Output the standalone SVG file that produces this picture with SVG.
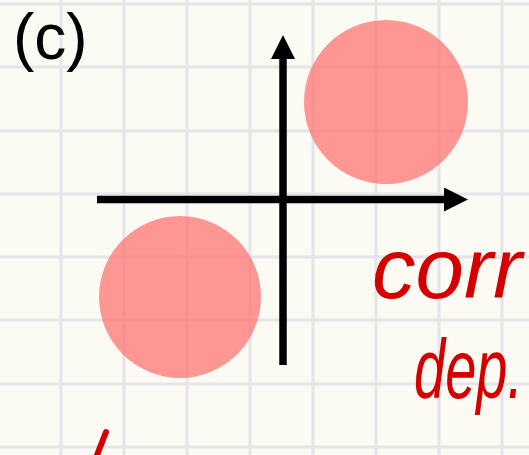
<svg xmlns="http://www.w3.org/2000/svg" width="529" height="455" viewBox="0 0 529 455">
<style>
.grid{stroke:#e4e4ea;stroke-width:3}
.axis{stroke:#000;stroke-width:7.5}
.blob{fill:#ff7474;fill-opacity:0.75}
.hand{fill:#d40000;font-family:"Liberation Sans",sans-serif;font-style:italic}
</style>
<defs>
<marker id="ah" viewBox="0 0 24 24" refX="2" refY="12" markerWidth="24" markerHeight="24" markerUnits="userSpaceOnUse" orient="auto">
<path d="M0,0 L24,12 L0,24 Z" fill="#000"/>
</marker>
</defs>
<rect width="529" height="455" fill="#fbfbf3"/>
<g id="grid" class="grid">
<line x1="61" y1="0" x2="61" y2="455"/>
<line x1="124" y1="0" x2="124" y2="455"/>
<line x1="187" y1="0" x2="187" y2="455"/>
<line x1="250" y1="0" x2="250" y2="455"/>
<line x1="313" y1="0" x2="313" y2="455"/>
<line x1="376" y1="0" x2="376" y2="455"/>
<line x1="439" y1="0" x2="439" y2="455"/>
<line x1="502" y1="0" x2="502" y2="455"/>
<line x1="0" y1="4" x2="529" y2="4"/>
<line x1="0" y1="67" x2="529" y2="67"/>
<line x1="0" y1="131" x2="529" y2="131"/>
<line x1="0" y1="194" x2="529" y2="194"/>
<line x1="0" y1="257" x2="529" y2="257"/>
<line x1="0" y1="320" x2="529" y2="320"/>
<line x1="0" y1="384" x2="529" y2="384"/>
<line x1="0" y1="447" x2="529" y2="447"/>
</g>
<text x="13" y="59" font-family="Liberation Sans, sans-serif" font-size="64" fill="#000">(c)</text>
<g id="connectors">
<line class="axis" x1="97" y1="199.5" x2="446" y2="199.5" marker-end="url(#ah)"/>
<line class="axis" x1="283" y1="365" x2="283" y2="57" marker-end="url(#ah)"/>
</g>
<g id="blob-top"><circle class="blob" cx="386" cy="102" r="82"/></g>
<g id="blob-bottom"><circle class="blob" cx="180" cy="297" r="81"/></g>
<g id="labels">
<text class="hand" x="372" y="298" font-size="86" textLength="150" lengthAdjust="spacingAndGlyphs">corr</text>
<text class="hand" transform="translate(414,398) scale(1,1.5)" x="0" y="0" font-size="56">dep.</text>
</g>
<path d="M106,432 L97,455" stroke="#d40000" stroke-width="6" stroke-linecap="round" fill="none"/>
</svg>
